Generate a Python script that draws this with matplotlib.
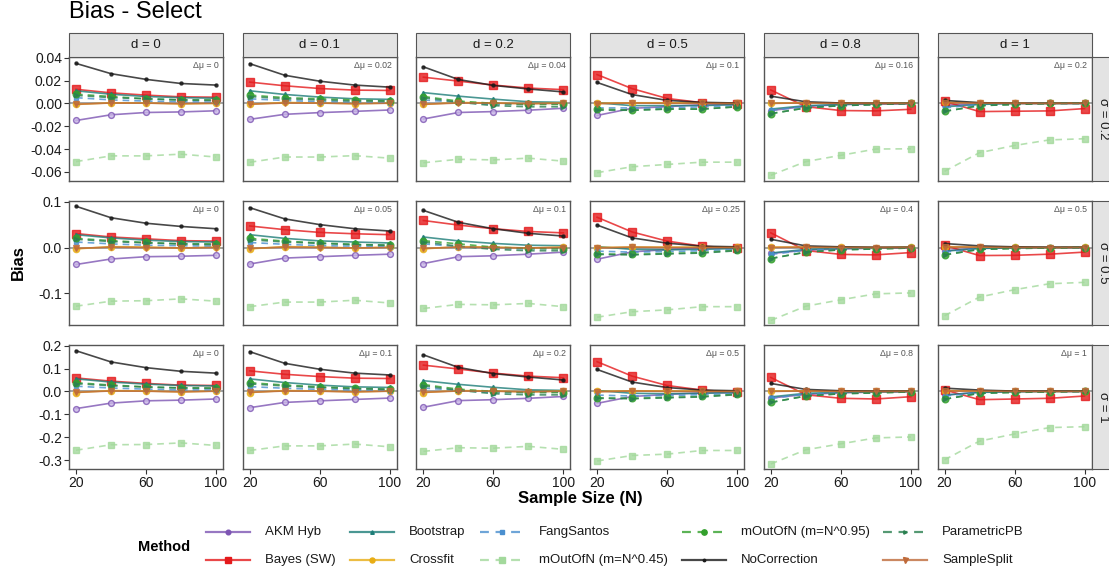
import matplotlib
matplotlib.use("Agg")
import matplotlib.pyplot as plt
from matplotlib.lines import Line2D
from matplotlib.patches import Rectangle

plt.rcParams["font.family"] = ["Liberation Sans", "DejaVu Sans"]

# ─── Data ─────────────────────────────────────────────────────────────────────
N = [20, 40, 60, 80, 100]
D_LABELS = ["d = 0", "d = 0.1", "d = 0.2", "d = 0.5", "d = 0.8", "d = 1"]
SIGMA_LABELS = ["σ = 0.2", "σ = 0.5", "σ = 1"]
DMU = [["0", "0.02", "0.04", "0.1", "0.16", "0.2"],
       ["0", "0.05", "0.1", "0.25", "0.4", "0.5"],
       ["0", "0.1", "0.2", "0.5", "0.8", "1"]]

# each method: [sigma row][d column][N]
akm_hyb = [
    [[-0.015, -0.010, -0.008, -0.0075, -0.0065], [-0.014, -0.0096, -0.0081, -0.007, -0.0058],
     [-0.0137, -0.008, -0.0072, -0.006, -0.0043], [-0.0106, -0.0043, -0.0029, -0.0011, -0.001],
     [-0.0063, -0.0026, -0.0011, -0.0006, -0.0003], [-0.0017, -0.0003, 0.0, 0.0, 0.0]],
    [[-0.037, -0.025, -0.020, -0.019, -0.017], [-0.036, -0.023, -0.020, -0.017, -0.0145],
     [-0.035, -0.020, -0.018, -0.0145, -0.010], [-0.0255, -0.0095, -0.0044, -0.0015, -0.0015],
     [-0.013, -0.006, -0.003, -0.0015, -0.0007], [-0.007, -0.0015, 0.0, 0.0, 0.0]],
    [[-0.075, -0.051, -0.041, -0.038, -0.033], [-0.071, -0.048, -0.041, -0.035, -0.029],
     [-0.069, -0.040, -0.036, -0.030, -0.022], [-0.052, -0.022, -0.013, -0.006, -0.006],
     [-0.029, -0.013, -0.006, -0.003, -0.0015], [-0.016, -0.003, 0.0, 0.0, 0.0]],
]
bayes_sw = [
    [[0.0123, 0.0092, 0.0072, 0.0057, 0.0054], [0.0186, 0.0154, 0.013, 0.0116, 0.0113],
     [0.0229, 0.0195, 0.016, 0.0134, 0.012], [0.0252, 0.0129, 0.0043, 0.0006, -0.001],
     [0.0117, -0.0029, -0.0063, -0.0066, -0.0052], [0.0017, -0.0072, -0.0069, -0.0066, -0.0046]],
    [[0.0305, 0.023, 0.019, 0.015, 0.014], [0.047, 0.039, 0.033, 0.030, 0.028],
     [0.059, 0.049, 0.041, 0.035, 0.032], [0.066, 0.034, 0.014, 0.003, -0.0015],
     [0.032, -0.0065, -0.015, -0.016, -0.011], [0.0045, -0.0175, -0.017, -0.0145, -0.010]],
    [[0.059, 0.045, 0.035, 0.0275, 0.026], [0.090, 0.075, 0.065, 0.058, 0.0565],
     [0.115, 0.098, 0.080, 0.067, 0.060], [0.130, 0.067, 0.026, 0.006, -0.004],
     [0.061, -0.0145, -0.030, -0.033, -0.023], [0.007, -0.036, -0.033, -0.030, -0.020]],
]
bootstrap = [
    [[0.011, 0.008, 0.006, 0.005, 0.0045], [0.011, 0.0078, 0.0055, 0.004, 0.0035],
     [0.0094, 0.0063, 0.0037, 0.0014, 0.0009], [0.0005, -0.002, -0.002, -0.002, -0.001],
     [-0.005, -0.002, -0.001, 0.0, 0.0], [-0.003, -0.001, 0.0, 0.0, 0.0]],
    [[0.028, 0.021, 0.016, 0.013, 0.012], [0.028, 0.020, 0.0145, 0.012, 0.010],
     [0.023, 0.0145, 0.009, 0.005, 0.004], [0.002, -0.004, -0.005, -0.004, -0.002],
     [-0.012, -0.004, -0.002, -0.001, 0.0], [-0.008, -0.002, -0.001, 0.0, 0.0]],
    [[0.055, 0.041, 0.032, 0.026, 0.024], [0.055, 0.039, 0.0275, 0.020, 0.0175],
     [0.047, 0.031, 0.018, 0.007, 0.0045], [0.004, -0.008, -0.010, -0.008, -0.004],
     [-0.024, -0.008, -0.004, -0.002, 0.0], [-0.016, -0.004, -0.002, 0.0, 0.0]],
]
crossfit = [
    [[-0.001, 0.0005, 0.0003, -0.0005, 0.0], [-0.0008, 0.0008, 0.0003, -0.0003, 0.0003],
     [-0.001, 0.0008, 0.0003, -0.0003, 0.0003], [0.0, 0.0005, 0.0005, 0.0003, 0.0003],
     [0.0, 0.0005, 0.0003, 0.0, 0.0003], [0.001, 0.0005, 0.0003, 0.0, 0.0003]],
    [[-0.003, 0.002, 0.001, -0.001, 0.001], [-0.003, 0.002, 0.001, -0.001, 0.001],
     [-0.003, 0.002, 0.001, -0.001, 0.001], [0.0, 0.001, 0.001, 0.001, 0.001],
     [0.001, 0.001, 0.001, 0.0, 0.001], [0.002, 0.001, 0.001, 0.0, 0.001]],
    [[-0.005, 0.004, 0.002, -0.002, 0.002], [-0.005, 0.004, 0.002, -0.002, 0.002],
     [-0.005, 0.004, 0.002, -0.002, 0.002], [0.0, 0.003, 0.002, 0.002, 0.002],
     [0.002, 0.002, 0.002, 0.0, 0.002], [0.004, 0.002, 0.002, 0.0, 0.002]],
]
fang_santos = [
    [[0.005, 0.003, 0.002, 0.0015, 0.001], [0.004, 0.0025, 0.0015, 0.001, 0.0005],
     [0.003, 0.001, -0.001, -0.001, -0.0005], [-0.004, -0.004, -0.004, -0.003, -0.002],
     [-0.006, -0.003, -0.002, -0.001, 0.0], [-0.004, -0.001, 0.0, 0.0, 0.0]],
    [[0.012, 0.008, 0.005, 0.004, 0.003], [0.011, 0.007, 0.004, 0.003, 0.002],
     [0.008, 0.002, -0.002, -0.003, -0.002], [-0.008, -0.010, -0.009, -0.007, -0.004],
     [-0.015, -0.006, -0.003, -0.002, 0.0], [-0.010, -0.003, -0.001, 0.0, 0.0]],
    [[0.023, 0.015, 0.010, 0.007, 0.006], [0.021, 0.014, 0.009, 0.006, 0.004],
     [0.015, 0.005, -0.005, -0.005, -0.003], [-0.016, -0.020, -0.018, -0.014, -0.008],
     [-0.030, -0.012, -0.006, -0.004, 0.0], [-0.020, -0.006, -0.002, 0.0, 0.0]],
]
m_out_045 = [
    [[-0.051, -0.046, -0.046, -0.0445, -0.047], [-0.0516, -0.047, -0.047, -0.0458, -0.048],
     [-0.052, -0.049, -0.0495, -0.048, -0.0506], [-0.0607, -0.0555, -0.0535, -0.0515, -0.0515],
     [-0.063, -0.051, -0.0455, -0.040, -0.0398], [-0.0595, -0.0432, -0.0369, -0.032, -0.031]],
    [[-0.128, -0.117, -0.116, -0.112, -0.117], [-0.129, -0.119, -0.119, -0.115, -0.121],
     [-0.133, -0.124, -0.125, -0.122, -0.129], [-0.152, -0.140, -0.136, -0.129, -0.129],
     [-0.159, -0.128, -0.114, -0.101, -0.099], [-0.149, -0.108, -0.092, -0.079, -0.076]],
    [[-0.257, -0.233, -0.232, -0.225, -0.236], [-0.258, -0.238, -0.238, -0.230, -0.242],
     [-0.262, -0.246, -0.248, -0.240, -0.253], [-0.304, -0.280, -0.274, -0.258, -0.258],
     [-0.317, -0.255, -0.229, -0.203, -0.199], [-0.299, -0.217, -0.186, -0.158, -0.154]],
]
m_out_095 = [
    [[0.008, 0.006, 0.004, 0.003, 0.003], [0.0072, 0.005, 0.004, 0.003, 0.002],
     [0.006, 0.002, 0.0, -0.001, -0.001], [-0.005, -0.006, -0.005, -0.005, -0.003],
     [-0.009, -0.004, -0.002, -0.001, 0.0], [-0.007, -0.002, -0.001, 0.0, 0.0]],
    [[0.020, 0.015, 0.011, 0.008, 0.008], [0.020, 0.014, 0.010, 0.007, 0.005],
     [0.015, 0.008, 0.001, -0.002, -0.003], [-0.014, -0.015, -0.013, -0.011, -0.006],
     [-0.024, -0.010, -0.005, -0.003, -0.001], [-0.016, -0.004, -0.002, -0.001, 0.0]],
    [[0.038, 0.028, 0.020, 0.016, 0.015], [0.038, 0.028, 0.020, 0.014, 0.010],
     [0.030, 0.010, 0.0, -0.005, -0.005], [-0.028, -0.030, -0.026, -0.022, -0.012],
     [-0.048, -0.020, -0.010, -0.006, -0.002], [-0.034, -0.008, -0.004, -0.002, 0.0]],
]
no_correction = [
    [[0.035, 0.026, 0.021, 0.0174, 0.016], [0.0348, 0.0246, 0.0194, 0.016, 0.0142],
     [0.032, 0.0209, 0.0157, 0.0126, 0.010], [0.0183, 0.0077, 0.0026, 0.0009, 0.0003],
     [0.0063, 0.0014, 0.0003, 0.0, 0.0], [0.0026, 0.0006, 0.0, 0.0, 0.0]],
    [[0.090, 0.065, 0.053, 0.046, 0.041], [0.087, 0.0625, 0.050, 0.041, 0.036],
     [0.081, 0.055, 0.041, 0.031, 0.025], [0.049, 0.021, 0.0095, 0.003, 0.0015],
     [0.018, 0.0036, 0.0015, 0.0007, 0.0007], [0.0087, 0.0036, 0.0015, 0.0007, 0.0007]],
    [[0.178, 0.129, 0.104, 0.088, 0.080], [0.174, 0.123, 0.097, 0.080, 0.072],
     [0.160, 0.105, 0.078, 0.063, 0.050], [0.096, 0.041, 0.017, 0.006, 0.003],
     [0.035, 0.009, 0.003, 0.0015, 0.0015], [0.0145, 0.006, 0.0015, 0.0015, 0.0015]],
]
parametric_pb = [
    [[0.007, 0.005, 0.004, 0.003, 0.0025], [0.006, 0.004, 0.003, 0.002, 0.002],
     [0.005, 0.001, -0.002, -0.003, -0.003], [-0.006, -0.006, -0.005, -0.005, -0.003],
     [-0.009, -0.004, -0.002, -0.001, 0.0], [-0.007, -0.002, -0.001, 0.0, 0.0]],
    [[0.018, 0.013, 0.010, 0.008, 0.006], [0.017, 0.012, 0.009, 0.006, 0.005],
     [0.012, 0.003, -0.004, -0.007, -0.007], [-0.015, -0.016, -0.014, -0.012, -0.007],
     [-0.024, -0.010, -0.005, -0.003, -0.001], [-0.016, -0.004, -0.002, -0.001, 0.0]],
    [[0.034, 0.025, 0.019, 0.015, 0.013], [0.033, 0.024, 0.017, 0.012, 0.009],
     [0.025, 0.005, -0.010, -0.015, -0.015], [-0.030, -0.032, -0.028, -0.024, -0.014],
     [-0.048, -0.020, -0.010, -0.006, -0.002], [-0.034, -0.008, -0.004, -0.002, 0.0]],
]
sample_split = [
    [[-0.0008, 0.0003, 0.0002, -0.0003, 0.0001], [-0.0008, 0.0003, 0.0002, -0.0003, 0.0001],
     [-0.0008, 0.0003, 0.0002, -0.0003, 0.0001], [-0.0003, 0.0003, 0.0, 0.0, 0.0],
     [0.0, 0.0003, 0.0, 0.0, 0.0], [0.0005, 0.0003, 0.0, 0.0, 0.0]],
    [[-0.002, 0.001, 0.0, -0.001, 0.0], [-0.002, 0.001, 0.0, -0.001, 0.0],
     [-0.002, 0.001, 0.0, -0.001, 0.0], [-0.001, 0.001, 0.0, 0.0, 0.0],
     [0.0, 0.001, 0.0, 0.0, 0.0], [0.001, 0.001, 0.0, 0.0, 0.0]],
    [[-0.004, 0.002, 0.001, -0.002, 0.001], [-0.004, 0.002, 0.001, -0.002, 0.001],
     [-0.004, 0.002, 0.001, -0.002, 0.001], [-0.002, 0.002, 0.0, 0.0, 0.0],
     [0.0, 0.002, 0.0, 0.0, 0.0], [0.002, 0.002, 0.0, 0.0, 0.0]],
]

METHODS = ["AKM Hyb", "Bayes (SW)", "Bootstrap", "Crossfit", "FangSantos",
           "mOutOfN (m=N^0.45)", "mOutOfN (m=N^0.95)", "NoCorrection",
           "ParametricPB", "SampleSplit"]
BIAS = dict(zip(METHODS, [akm_hyb, bayes_sw, bootstrap, crossfit, fang_santos,
                          m_out_045, m_out_095, no_correction, parametric_pb, sample_split]))

# colour, linestyle, marker, markersize, marker face
STYLE = {
    "AKM Hyb":            ("#7d55b3", "-",  "o", 4.2, "#c9b6e6"),
    "Bayes (SW)":         ("#e41a1c", "-",  "s", 5.8, None),
    "Bootstrap":          ("#1d7d78", "-",  "^", 3.2, None),
    "Crossfit":           ("#e8ad14", "-",  "o", 4.5, None),
    "FangSantos":         ("#4a8fcf", "--", "s", 3.0, None),
    "mOutOfN (m=N^0.45)": ("#a3d99c", "--", "s", 5.0, None),
    "mOutOfN (m=N^0.95)": ("#33a02c", "--", "o", 4.8, None),
    "NoCorrection":       ("#1a1a1a", "-",  "o", 2.2, None),
    "ParametricPB":       ("#2a8050", "--", ">", 3.0, None),
    "SampleSplit":        ("#bf6a3a", "-",  "v", 4.5, None),
}

YLIMS = [(-0.068, 0.0406), (-0.169, 0.1015), (-0.339, 0.203)]
YTICKS = [[-0.06, -0.04, -0.02, 0.0, 0.02, 0.04], [-0.1, 0.0, 0.1],
          [-0.3, -0.2, -0.1, 0.0, 0.1, 0.2]]
YTICK_LABELS = [["-0.06", "-0.04", "-0.02", "0.00", "0.02", "0.04"], ["-0.1", "0.0", "0.1"],
                ["-0.3", "-0.2", "-0.1", "0.0", "0.1", "0.2"]]

# ─── Layout (pixels) ──────────────────────────────────────────────────────────
W, H = 1109, 575
PANEL_X = [69, 242.7, 416.4, 590.1, 763.8, 937.5]
PANEL_Y = [57, 201, 345]
PW, PH = 154, 124
BORDER = "#555555"

fig = plt.figure(figsize=(W / 100, H / 100), dpi=100)


def fbox(x, y, w, h):
    return [x / W, 1 - (y + h) / H, w / W, h / H]


for r in range(3):
    for c in range(6):
        ax = fig.add_axes(fbox(PANEL_X[c], PANEL_Y[r], PW, PH))
        ax.axhline(0, color="#8a8a8a", lw=1.1, zorder=1)
        for k, m in enumerate(METHODS):
            col, ls, mk, ms, mfc = STYLE[m]
            ax.plot(N, BIAS[m][r][c], color=col, ls=ls, lw=1.2, alpha=0.8,
                    dashes=(4, 3) if ls == "--" else (None, None),
                    marker=mk, ms=ms, mfc=mfc if mfc else col, mec=col, mew=1.0,
                    zorder=2 + k)
        ax.set_xlim(16, 104)
        ax.set_ylim(*YLIMS[r])
        ax.set_xticks([20, 60, 100])
        ax.set_yticks(YTICKS[r])
        ax.tick_params(length=3.5, width=0.8, color="#333333", labelsize=10,
                       pad=1.5, labelcolor="#1a1a1a")
        if c == 0:
            ax.set_yticklabels(YTICK_LABELS[r])
        else:
            ax.tick_params(axis="y", left=False, labelleft=False)
        if r == 2:
            ax.set_xticklabels(["20", "60", "100"])
        else:
            ax.tick_params(axis="x", bottom=False, labelbottom=False)
        for sp in ax.spines.values():
            sp.set_color(BORDER)
            sp.set_linewidth(1.0)
        ax.text(0.97, 0.93, "Δμ = " + DMU[r][c], transform=ax.transAxes,
                ha="right", va="center", fontsize=6.3, color="#555555")

# facet strips
for c in range(6):
    fig.add_artist(Rectangle((PANEL_X[c] / W, 1 - 57 / H), PW / W, 24 / H,
                             transform=fig.transFigure, fc="#e3e3e3", ec=BORDER, lw=0.8))
    fig.text((PANEL_X[c] + PW / 2) / W, 1 - 45 / H, D_LABELS[c], ha="center",
             va="center", fontsize=9.5, color="#1a1a1a")
for r in range(3):
    x0 = PANEL_X[-1] + PW
    fig.add_artist(Rectangle((x0 / W, 1 - (PANEL_Y[r] + PH) / H), 24 / W, PH / H,
                             transform=fig.transFigure, fc="#e3e3e3", ec=BORDER, lw=0.8))
    fig.text((x0 + 11) / W, 1 - (PANEL_Y[r] + PH / 2) / H, SIGMA_LABELS[r],
             ha="center", va="center", rotation=-90, fontsize=9.5, color="#1a1a1a")

fig.text(69 / W, 1 - 12 / H, "Bias - Select", ha="left", va="center", fontsize=17)
fig.text(18 / W, 1 - 263 / H, "Bias", ha="center", va="center", rotation=90,
         fontsize=12, fontweight="bold")
fig.text(580 / W, 1 - 498 / H, "Sample Size (N)", ha="center", va="center",
         fontsize=12, fontweight="bold")

# ─── Legend ───────────────────────────────────────────────────────────────────
lax = fig.add_axes([0, 0, 1, 1])
lax.set_xlim(0, W)
lax.set_ylim(H, 0)
lax.axis("off")
lax.text(138, 547, "Method", ha="left", va="center", fontsize=10.5, fontweight="bold")
COL_X = [206, 350, 480, 682, 883]
ROW_Y = [532, 560]
for i, m in enumerate(METHODS):
    col, ls, mk, ms, mfc = STYLE[m]
    x0, y = COL_X[i // 2], ROW_Y[i % 2]
    lax.add_line(Line2D([x0, x0 + 44], [y, y], color=col, ls=ls, lw=1.6, alpha=0.8,
                        dashes=(4, 3) if ls == "--" else (None, None)))
    lax.add_line(Line2D([x0 + 22], [y], marker=mk, ms=ms * 0.8, color=col,
                        mfc=col, mec=col))
    lax.text(x0 + 59, y, m, ha="left", va="center", fontsize=9.5, color="#1a1a1a")

fig.savefig("out.png", dpi=100)
